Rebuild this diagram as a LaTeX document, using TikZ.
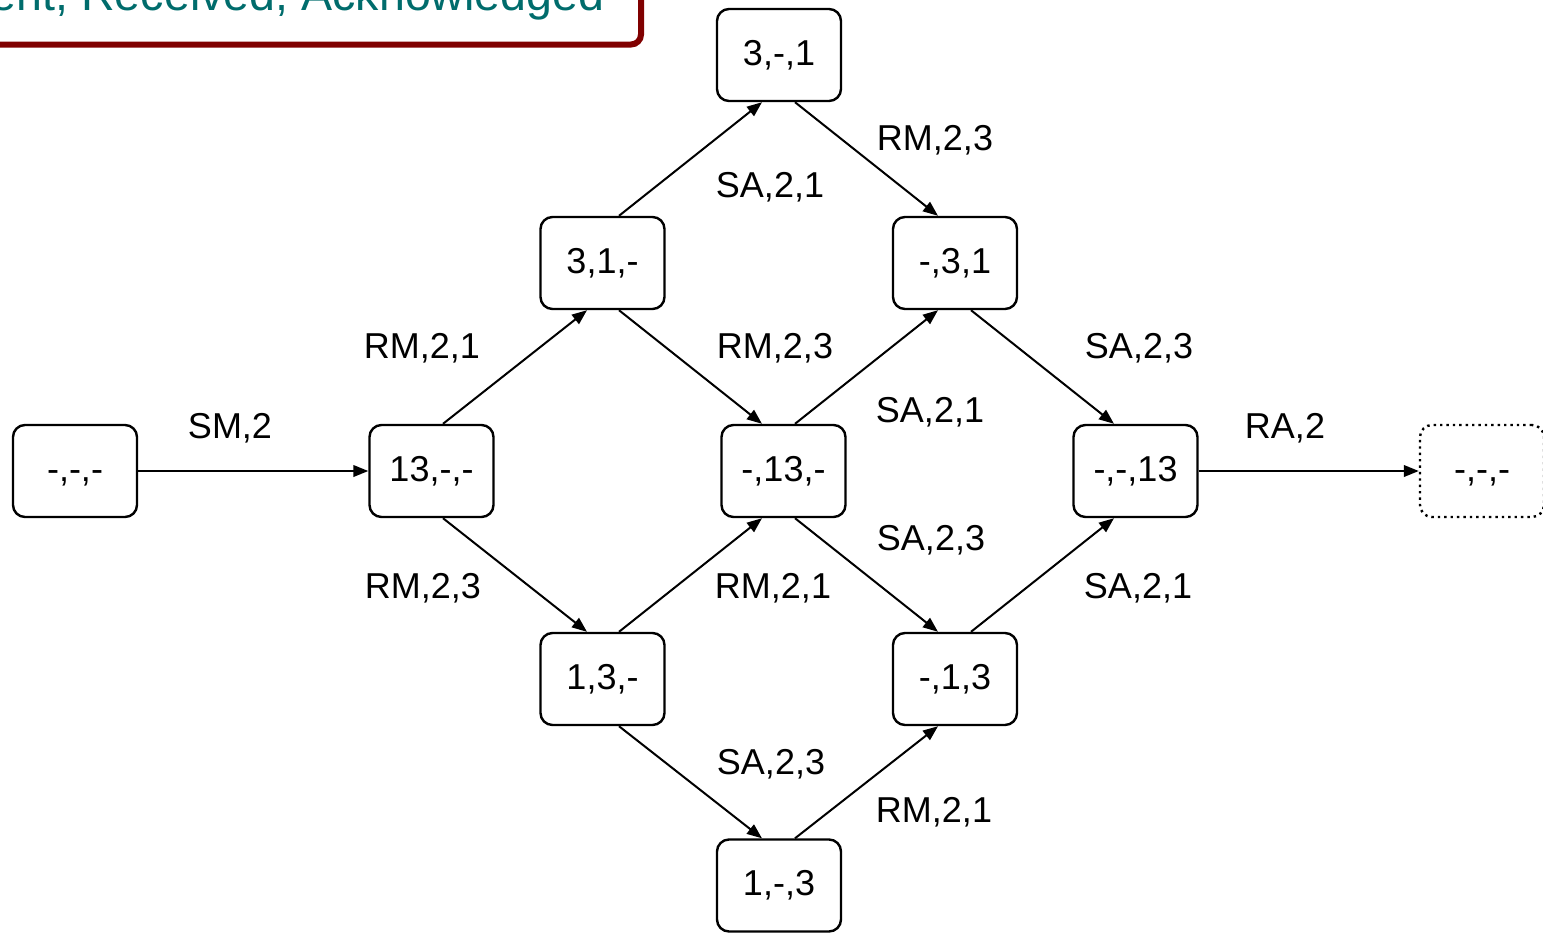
\documentclass[tikz,border=0pt]{standalone}
\usepackage{fontspec}
\setmainfont{Liberation Sans}
\usetikzlibrary{arrows.meta}
\definecolor{titlered}{RGB}{128,0,0}
\definecolor{titleteal}{RGB}{0,108,108}
\begin{document}
\begin{tikzpicture}[x=0.5pt,y=-0.5pt,
  statebox/.style={draw, rounded corners=6pt, line width=1.2pt, minimum width=62pt, minimum height=46pt, inner sep=0pt, text height=12.9pt, text depth=2.5pt, font=\fontsize{18}{20}\selectfont},
  ghostbox/.style={statebox, dotted},
  lbl/.style={font=\fontsize{18}{20}\selectfont, inner sep=0pt},
  arr/.style={line width=1pt, -{Triangle[length=7.5pt,width=5.8pt]}}]
\useasboundingbox (0,0) rectangle (1543,933);
% title box (clipped)
\draw[line width=3pt, draw=titlered, rounded corners=5pt] (-200,-200) rectangle (641,44.5);
\node[anchor=base east, text=titleteal, font=\fontsize{23.3}{26}\selectfont, inner sep=0pt] (title) at (605,10) {Sent, Received, Acknowledged};
% states
\node[statebox] (A) at (75,471) {-,-,-};
\node[statebox] (B) at (431.5,471) {13,-,-};
\node[statebox] (C) at (602.5,263) {3,1,-};
\node[statebox] (D) at (602.5,679) {1,3,-};
\node[statebox] (E) at (779,55) {3,-,1};
\node[statebox] (F) at (783.5,471) {-,13,-};
\node[statebox] (G) at (779,885.5) {1,-,3};
\node[statebox] (H) at (955,263) {-,3,1};
\node[statebox] (I) at (955,679) {-,1,3};
\node[statebox] (J) at (1135.5,471) {-,-,13};
\node[ghostbox] (K) at (1482,471) {-,-,-};
% transitions
\draw[arr] (A.east) -- (B.west);
\draw[arr] ([xshift=5.75pt]B.north) -- ([xshift=-7.75pt]C.south);
\draw[arr] ([xshift=5.75pt]B.south) -- ([xshift=-7.75pt]D.north);
\draw[arr] ([xshift=8.25pt]C.north) -- ([xshift=-8.5pt]E.south);
\draw[arr] ([xshift=8.25pt]C.south) -- ([xshift=-10.75pt]F.north);
\draw[arr] ([xshift=8.25pt]D.north) -- ([xshift=-10.75pt]F.south);
\draw[arr] ([xshift=8.25pt]D.south) -- ([xshift=-8.5pt]G.north);
\draw[arr] ([xshift=8pt]E.south) -- ([xshift=-8.5pt]H.north);
\draw[arr] ([xshift=5.75pt]F.north) -- ([xshift=-8.5pt]H.south);
\draw[arr] ([xshift=5.75pt]F.south) -- ([xshift=-8.5pt]I.north);
\draw[arr] ([xshift=8pt]G.north) -- ([xshift=-8.5pt]I.south);
\draw[arr] ([xshift=8pt]H.south) -- ([xshift=-10.75pt]J.north);
\draw[arr] ([xshift=8pt]I.north) -- ([xshift=-10.75pt]J.south);
\draw[arr] (J.east) -- (K.west);
% labels
\node[lbl] (l1) at (230,428) {SM,2};
\node[lbl] (l2) at (422,348) {RM,2,1};
\node[lbl] (l3) at (423,588) {RM,2,3};
\node[lbl] (l4) at (770,187) {SA,2,1};
\node[lbl] (l5) at (775,348) {RM,2,3};
\node[lbl] (l6) at (773,588) {RM,2,1};
\node[lbl] (l7) at (771,764) {SA,2,3};
\node[lbl] (l8) at (935,140) {RM,2,3};
\node[lbl] (l9) at (930,412) {SA,2,1};
\node[lbl] (l10) at (931,540) {SA,2,3};
\node[lbl] (l11) at (934,812) {RM,2,1};
\node[lbl] (l12) at (1139,348) {SA,2,3};
\node[lbl] (l13) at (1138,588) {SA,2,1};
\node[lbl] (l14) at (1285,428) {RA,2};
\end{tikzpicture}
\end{document}
